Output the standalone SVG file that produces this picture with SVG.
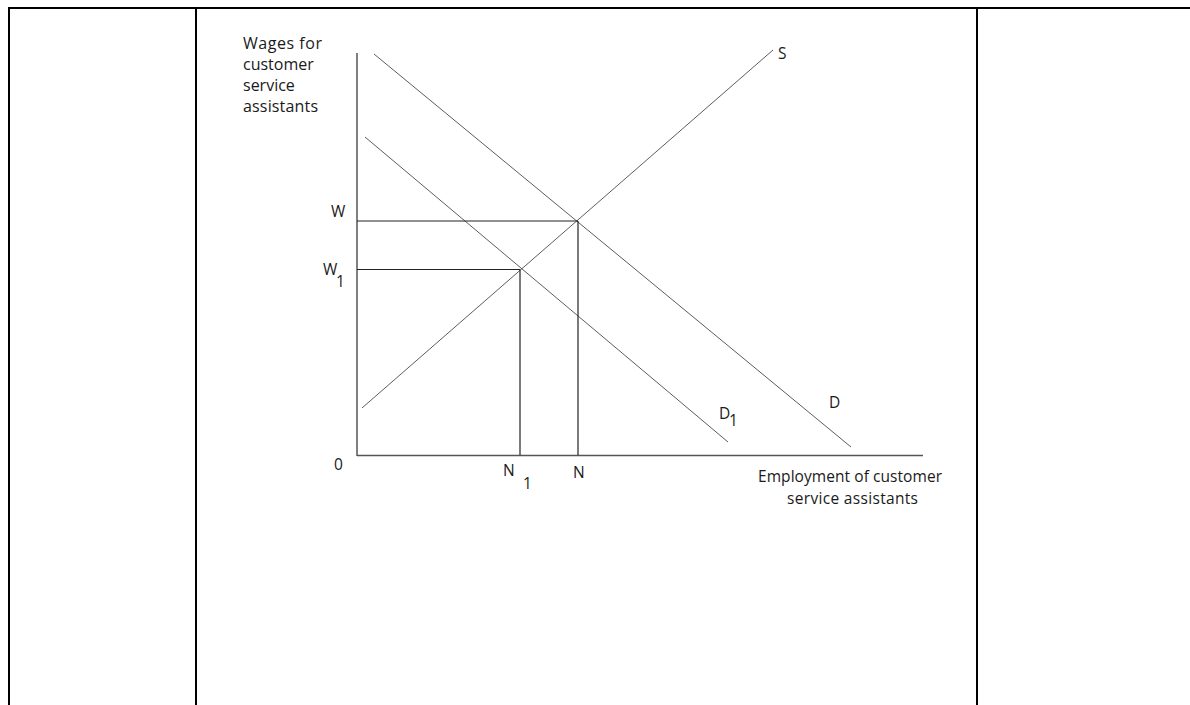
<svg xmlns="http://www.w3.org/2000/svg" width="1190" height="705" viewBox="0 0 1190 705">
<style>
.frame{stroke:#000;stroke-width:2;fill:none}
.axis{stroke:#555;stroke-width:1.5;fill:none}
.curve{stroke:#333;stroke-width:0.8;fill:none}
.guide{stroke:#222;stroke-width:1.2;fill:none}
text{font-family:"Open Sans","Liberation Sans",sans-serif;font-size:15.5px;fill:#1a1a1a}
.ylab{font-size:16px}
</style>
<rect width="1190" height="705" fill="#fff"/>
<g id="table">
<line class="frame" x1="8" y1="8" x2="1190" y2="8"/>
<line class="frame" x1="9" y1="8" x2="9" y2="705"/>
<line class="frame" x1="196" y1="8" x2="196" y2="705"/>
<line class="frame" x1="977" y1="8" x2="977" y2="705"/>
</g>
<g id="axes">
<line class="axis" x1="357" y1="53" x2="357" y2="456"/>
<line class="axis" x1="357" y1="455.5" x2="923" y2="455.5"/>
<text class="ylab" x="243" y="49" textLength="79">Wages for</text>
<text class="ylab" x="243" y="70">customer</text>
<text class="ylab" x="243" y="91">service</text>
<text class="ylab" x="243" y="112" textLength="75">assistants</text>
<text x="758" y="482" textLength="184">Employment  of customer</text>
<text x="787" y="504" textLength="131">service assistants</text>
<text x="334" y="470">0</text>
</g>
<g id="connectors">
<line class="curve" x1="374" y1="54" x2="851" y2="447"/>
<line class="curve" x1="365" y1="137" x2="728" y2="442"/>
<line class="curve" x1="362" y1="408" x2="773" y2="50"/>
<line class="guide" x1="357" y1="221" x2="578" y2="221"/>
<line class="guide" x1="357" y1="269.5" x2="520" y2="269.5"/>
<line class="guide" x1="520" y1="269.5" x2="520" y2="455"/>
<line class="guide" x1="578" y1="221" x2="578" y2="455"/>
</g>
<g id="labels">
<text x="331" y="217" font-size="14">W</text>
<text x="323" y="275" font-size="14">W</text>
<text x="336" y="287">1</text>
<text x="503" y="476" font-size="14">N</text>
<text x="523" y="489">1</text>
<text x="573" y="478" font-size="14">N</text>
<text x="719" y="419" font-size="14">D</text>
<text x="729" y="426">1</text>
<text x="829" y="408" font-size="14">D</text>
<text x="778" y="59" font-size="14">S</text>
</g>
</svg>
